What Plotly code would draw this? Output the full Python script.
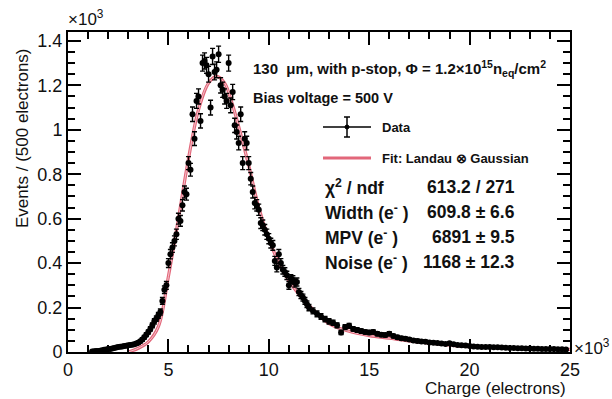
import numpy as np
import plotly.graph_objects as go

# ---- data (charge in 10^3 electrons, events in 10^3) ----
charge_a = [1.2,1.3,1.4,1.5,1.6,1.7,1.8,1.9,2.0,2.1,2.2,2.3,2.4,2.5,2.6,2.7,2.8,2.9,3.0,
            3.1,3.2,3.3,3.4,3.5,3.6,3.7,3.8,3.9,4.0,4.1,4.2,4.3,4.4,4.5,4.6,4.7,4.8,4.9,5.0,
            5.1,5.2,5.3,5.4,5.5,5.6,5.7,5.8,5.9,6.0,6.1,6.2,6.3,6.4,6.5,6.6,6.7,6.8,6.9,7.0,
            7.1,7.2,7.3,7.4,7.5,7.6,7.7,7.8,7.9,8.0,8.1,8.2,8.3,8.4,8.5,8.6,8.7,8.8,8.9,9.0,
            9.1,9.2,9.3,9.4,9.5,9.6,9.7,9.8,9.9,10.0,10.1,10.2,10.3,10.4,10.5,10.6,10.7,10.8,
            10.9,11.0,11.1,11.2,11.3,11.4,11.5,11.6,11.7,11.8,11.9,12.0]
events_a = [0.002,0.003,0.004,0.005,0.006,0.008,0.010,0.011,0.013,0.014,0.016,0.018,0.020,0.022,0.024,0.025,0.027,0.028,0.030,
            0.031,0.033,0.035,0.038,0.042,0.048,0.056,0.066,0.078,0.090,0.104,0.120,0.138,0.150,0.165,0.180,0.230,0.280,0.300,0.400,
            0.440,0.470,0.500,0.530,0.600,0.590,0.660,0.720,0.710,0.850,0.820,1.070,0.960,1.130,1.150,1.040,1.300,1.310,1.290,1.250,
            1.100,1.330,1.260,1.270,1.340,1.200,1.180,1.150,1.130,1.300,1.110,1.170,1.020,0.990,0.940,1.070,0.850,0.960,0.940,0.850,
            0.780,0.720,0.670,0.660,0.640,0.580,0.570,0.550,0.530,0.510,0.490,0.480,0.410,0.380,0.440,0.400,0.370,0.360,
            0.345,0.300,0.330,0.325,0.310,0.315,0.270,0.256,0.245,0.230,0.215,0.200]
charge_b = [12.2,12.4,12.6,12.8,13.0,13.2,13.4,13.6,13.8,14.0,14.2,14.4,14.6,14.8,15.0,15.2,15.4,15.6,15.8,16.0,
            16.2,16.4,16.6,16.8,17.0,17.2,17.4,17.6,17.8,18.0,18.2,18.4,18.6,18.8,19.0,19.2,19.4,19.6,19.8,20.0,
            20.2,20.4,20.6,20.8,21.0,21.2,21.4,21.6,21.8,22.0,22.2,22.4,22.6,22.8,23.0,23.2,23.4,23.6,23.8,24.0,
            24.2,24.4,24.6,24.8]
events_b = [0.185,0.172,0.160,0.148,0.138,0.132,0.120,0.088,0.112,0.118,0.104,0.099,0.094,0.090,0.088,0.090,0.082,0.078,0.076,0.082,
            0.072,0.066,0.062,0.060,0.056,0.052,0.050,0.047,0.046,0.043,0.042,0.040,0.038,0.036,0.039,0.035,0.032,0.030,0.029,0.027,
            0.025,0.024,0.023,0.022,0.022,0.021,0.021,0.020,0.019,0.018,0.018,0.017,0.017,0.016,0.016,0.015,0.015,0.014,0.014,0.013,
            0.013,0.012,0.012,0.011]

fit_charge = [3.0,3.5,4.0,4.5,5.0,5.5,6.0,6.5,7.0,7.4,7.8,8.2,8.6,9.0,9.5,10.0,10.5,11.0,11.5,12.0,
              13.0,14.0,15.0,16.0,17.0,18.0,19.0,20.0,22.0,25.0]
fit_events = [0.0,0.017,0.046,0.114,0.34,0.60,0.87,1.09,1.21,1.24,1.21,1.11,0.98,0.84,0.65,0.51,0.40,0.32,0.26,0.21,
              0.128,0.093,0.074,0.062,0.050,0.040,0.031,0.024,0.018,0.012]

x_ticks = [0, 5, 10, 15, 20, 25]
y_ticks = [0, 0.2, 0.4, 0.6, 0.8, 1.0, 1.2, 1.4]
y_tick_text = ["0", "0.2", "0.4", "0.6", "0.8", "1", "1.2", "1.4"]

charge = np.array(charge_a + charge_b)
events = np.array(events_a + events_b)
errors = np.sqrt(events * 1000.0) / 1000.0  # Poisson errors

FONT = "Liberation Sans, Arial, Helvetica, sans-serif"

fig = go.Figure()
fig.add_trace(go.Scatter(
    x=fit_charge, y=fit_events, mode="lines",
    line=dict(color="#e2677a", width=3.2, shape="spline", smoothing=1.0),
    hoverinfo="skip", showlegend=False))
fig.add_trace(go.Scatter(
    x=fit_charge, y=fit_events, mode="lines",
    line=dict(color="#f6cdd4", width=0.9, shape="spline", smoothing=1.0),
    hoverinfo="skip", showlegend=False))
fig.add_trace(go.Scatter(
    x=charge, y=events, mode="markers",
    marker=dict(color="black", size=6),
    error_y=dict(type="data", array=errors, color="black", thickness=1.4, width=2.5),
    showlegend=False))

L, R, T, B = 68, 42, 32, 47
W, H = 612, 399
pw, ph = W - L - R, H - T - B

def px(xp):
    return (xp - L) / pw

def py(yp):
    return (H - B - yp) / ph

axis_common = dict(
    showline=True, linecolor="black", linewidth=2, mirror="allticks",
    ticks="inside", ticklen=13, tickwidth=1.8, tickcolor="black",
    showgrid=False, zeroline=False,
    tickfont=dict(family=FONT, size=18, color="#111"),
)

fig.update_xaxes(range=[0, 25], tickvals=x_ticks,
                 minor=dict(ticks="inside", ticklen=7, tickwidth=1.5, tickcolor="black", dtick=1),
                 **axis_common)
fig.update_yaxes(range=[0, 1.44], tickvals=y_ticks, ticktext=y_tick_text,
                 minor=dict(ticks="inside", ticklen=7, tickwidth=1.5, tickcolor="black", dtick=0.05),
                 **axis_common)

ann = []
def text(xp, yp, s, size, xanchor="left", bold=False, angle=0, yanchor="middle"):
    if bold:
        s = "<b>" + s + "</b>"
    ann.append(dict(xref="paper", yref="paper", x=px(xp), y=py(yp), text=s,
                    showarrow=False, xanchor=xanchor, yanchor=yanchor, textangle=angle,
                    font=dict(family=FONT, size=size, color="#111")))

text(66, 18, "×10<sup>3</sup>", 17)
text(572, 347, "×10<sup>3</sup>", 17)
text(22, 138, "Events / (500 electrons)", 17, xanchor="center", angle=-90)
text(568, 388, "Charge (electrons)", 17, xanchor="right")
text(251, 68, "130  μm, with p-stop, Φ = 1.2×10<sup>15</sup>n<sub>eq</sub>/cm<sup>2</sup>", 15, bold=True)
text(251, 98, "Bias voltage = 500 V", 14.5, bold=True)
text(380, 127, "Data", 13, bold=True)
text(380, 158, "Fit: Landau ⊗ Gaussian", 13, bold=True)
stats = [("χ<sup>2</sup> / ndf", "613.2 / 271", 187),
         ("Width (e<sup>-</sup> )", "609.8 ± 6.6", 212),
         ("MPV (e<sup>-</sup> )", "6891 ± 9.5", 237),
         ("Noise (e<sup>-</sup> )", "1168 ± 12.3", 262)]
for lab, val, yy in stats:
    text(323, yy, lab, 17.5, bold=True)
    text(517, yy, val, 17.5, bold=True, xanchor="right")

shapes = [
    dict(type="line", xref="paper", yref="paper", x0=px(323), x1=px(371), y0=py(127), y1=py(127),
         line=dict(color="black", width=1.5)),
    dict(type="line", xref="paper", yref="paper", x0=px(347), x1=px(347), y0=py(117), y1=py(137),
         line=dict(color="black", width=1.5)),
    dict(type="line", xref="paper", yref="paper", x0=px(344), x1=px(350), y0=py(117), y1=py(117),
         line=dict(color="black", width=1.5)),
    dict(type="line", xref="paper", yref="paper", x0=px(344), x1=px(350), y0=py(137), y1=py(137),
         line=dict(color="black", width=1.5)),
    dict(type="circle", xref="paper", yref="paper", x0=px(345), x1=px(349), y0=py(125), y1=py(129),
         fillcolor="black", line=dict(color="black", width=1)),
    dict(type="line", xref="paper", yref="paper", x0=px(323), x1=px(371), y0=py(158), y1=py(158),
         line=dict(color="#e2677a", width=3)),
]

fig.update_layout(
    width=W, height=H,
    margin=dict(l=L, r=R, t=T, b=B),
    paper_bgcolor="white", plot_bgcolor="white",
    annotations=ann, shapes=shapes,
    showlegend=False,
)

fig.write_html("out.html")
